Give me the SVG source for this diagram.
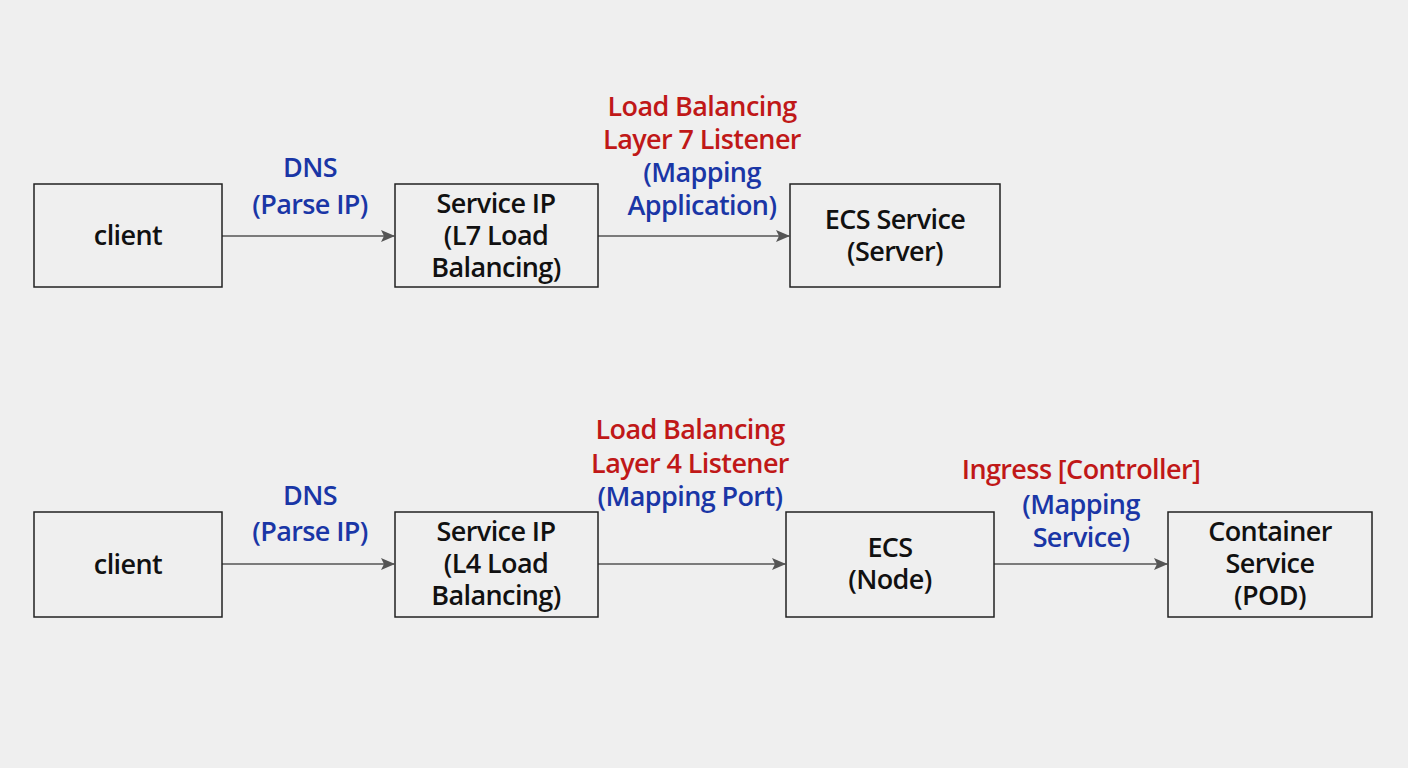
<svg xmlns="http://www.w3.org/2000/svg" width="1408" height="768" viewBox="0 0 1408 768">
<style>
.box{fill:none;stroke:#222;stroke-width:1.5}
.t{font-family:"Open Sans","Noto Sans",sans-serif;font-size:27px;font-weight:600;letter-spacing:-0.6px;text-anchor:middle;fill:#111}
.r{fill:#c01818}
.b{fill:#1a36a6}
.conn{stroke:#555;stroke-width:1.5;fill:none}
</style>
<defs>
<marker id="ah" markerWidth="14" markerHeight="12" refX="13" refY="6" orient="auto" markerUnits="userSpaceOnUse">
<path d="M0,0 L14,6 L0,12 L3,6 Z" fill="#555"/>
</marker>
</defs>
<rect width="1408" height="768" fill="#efefef"/>
<g id="connectors">
<line class="conn" x1="222" y1="236" x2="394" y2="236" marker-end="url(#ah)"/>
<line class="conn" x1="598" y1="236" x2="789" y2="236" marker-end="url(#ah)"/>
<line class="conn" x1="222" y1="564" x2="394" y2="564" marker-end="url(#ah)"/>
<line class="conn" x1="598" y1="564" x2="785" y2="564" marker-end="url(#ah)"/>
<line class="conn" x1="994" y1="564" x2="1167" y2="564" marker-end="url(#ah)"/>
<text class="t b" x="310" y="177">DNS</text>
<text class="t b" x="310" y="214">(Parse IP)</text>
<text class="t r" x="702" y="116">Load Balancing</text>
<text class="t r" x="702" y="149">Layer 7 Listener</text>
<text class="t b" x="702" y="182">(Mapping</text>
<text class="t b" x="702" y="215">Application)</text>
<text class="t b" x="310" y="505">DNS</text>
<text class="t b" x="310" y="541">(Parse IP)</text>
<text class="t r" x="690" y="439">Load Balancing</text>
<text class="t r" x="690" y="473">Layer 4 Listener</text>
<text class="t b" x="690" y="506">(Mapping Port)</text>
<text class="t r" x="1081" y="479">Ingress [Controller]</text>
<text class="t b" x="1081" y="514">(Mapping</text>
<text class="t b" x="1081" y="547">Service)</text>
</g>
<g id="client1"><rect class="box" x="34" y="184" width="188" height="103"/><text class="t" x="128" y="245">client</text></g>
<g id="serviceip1"><rect class="box" x="395" y="184" width="203" height="103"/><text class="t" x="496" y="213">Service IP</text><text class="t" x="496" y="245">(L7 Load</text><text class="t" x="496" y="277">Balancing)</text></g>
<g id="ecsservice"><rect class="box" x="790" y="184" width="210" height="103"/><text class="t" x="895" y="229">ECS Service</text><text class="t" x="895" y="261">(Server)</text></g>
<g id="client2"><rect class="box" x="34" y="512" width="188" height="105"/><text class="t" x="128" y="574">client</text></g>
<g id="serviceip2"><rect class="box" x="395" y="512" width="203" height="105"/><text class="t" x="496" y="541">Service IP</text><text class="t" x="496" y="573">(L4 Load</text><text class="t" x="496" y="605">Balancing)</text></g>
<g id="ecsnode"><rect class="box" x="786" y="512" width="208" height="105"/><text class="t" x="890" y="557">ECS</text><text class="t" x="890" y="589">(Node)</text></g>
<g id="pod"><rect class="box" x="1168" y="512" width="204" height="105"/><text class="t" x="1270" y="541">Container</text><text class="t" x="1270" y="573">Service</text><text class="t" x="1270" y="605">(POD)</text></g>
</svg>
